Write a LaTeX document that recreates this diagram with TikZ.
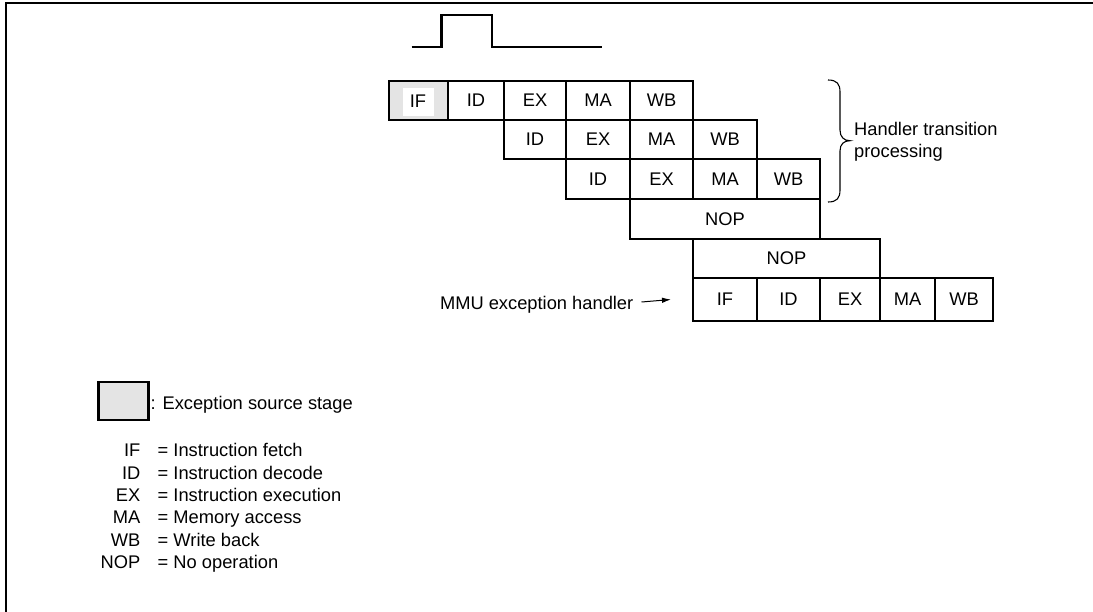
\documentclass[tikz,border=0pt]{standalone}
\usepackage{fontspec}
\setmainfont{Liberation Sans}
\usetikzlibrary{arrows.meta}
\definecolor{srcgray}{HTML}{E4E4E4}
\tikzset{
  cell/.style={draw=black, line width=2.4pt, inner sep=0pt, font=\fontsize{18.3}{20}\selectfont},
  srccell/.style={cell, fill=srcgray},
  lbl/.style={inner sep=0pt, font=\fontsize{18.3}{22}\selectfont},
  lbl1/.style={lbl, text height=13.1pt, text depth=0pt},
  frameline/.style={line width=2.2pt, line cap=rect},
  wave/.style={line width=2.2pt},
  bracestyle/.style={line width=1.1pt},
  arr/.style={line width=1pt, -{Latex[length=9pt,width=5.5pt]}}
}
\newcommand\cellbox[7][cell]{%
  \node[#1, minimum width={(#5)-(#3)}, minimum height={(#6)-(#4)}] (#2) at ({((#3)+(#5))/2},{((#4)+(#6))/2}) {#7};}
\begin{document}
\begin{tikzpicture}[x=1pt,y=-1pt]
\useasboundingbox (0,0) rectangle (1093,611);
% frame
\draw[frameline] (6,611) -- (6,3) -- (1093,3);
% pulse
\draw[wave] (411.5,46.7) -- (441.5,46.7) -- (441.5,15) -- (492.3,15) -- (492.3,46.7) -- (601.7,46.7);
% columns and rows
\def\ca{389}\def\cb{448}\def\cc{504}\def\cd{566}\def\ce{630}\def\cf{693}
\def\cg{757}\def\ch{820}\def\ci{880}\def\cj{935}\def\ck{993}
\def\ra{81}\def\rb{120}\def\rc{159}\def\rd{199}\def\re{239}\def\rf{278}\def\rg{321}
% row 1
\cellbox[srccell]{aIF}{\ca}{\ra}{\cb}{\rb}{}
\node[fill=white, minimum width=31pt, minimum height=28pt, inner sep=0pt, font=\fontsize{18.3}{20}\selectfont] (aIFt) at (418,101.5) {\raisebox{-2.5pt}{IF}};
\cellbox{aID}{\cb}{\ra}{\cc}{\rb}{ID}
\cellbox{aEX}{\cc}{\ra}{\cd}{\rb}{EX}
\cellbox{aMA}{\cd}{\ra}{\ce}{\rb}{MA}
\cellbox{aWB}{\ce}{\ra}{\cf}{\rb}{WB}
% row 2
\cellbox{bID}{\cc}{\rb}{\cd}{\rc}{ID}
\cellbox{bEX}{\cd}{\rb}{\ce}{\rc}{EX}
\cellbox{bMA}{\ce}{\rb}{\cf}{\rc}{MA}
\cellbox{bWB}{\cf}{\rb}{\cg}{\rc}{WB}
% row 3
\cellbox{cID}{\cd}{\rc}{\ce}{\rd}{ID}
\cellbox{cEX}{\ce}{\rc}{\cf}{\rd}{EX}
\cellbox{cMA}{\cf}{\rc}{\cg}{\rd}{MA}
\cellbox{cWB}{\cg}{\rc}{\ch}{\rd}{WB}
% NOPs
\cellbox{dNOP}{\ce}{\rd}{\ch}{\re}{NOP}
\cellbox{eNOP}{\cf}{\re}{\ci}{\rf}{NOP}
% handler row
\cellbox{fIF}{\cf}{\rf}{\cg}{\rg}{IF}
\cellbox{fID}{\cg}{\rf}{\ch}{\rg}{ID}
\cellbox{fEX}{\ch}{\rf}{\ci}{\rg}{EX}
\cellbox{fMA}{\ci}{\rf}{\cj}{\rg}{MA}
\cellbox{fWB}{\cj}{\rf}{\ck}{\rg}{WB}
% brace
\draw[bracestyle] (828,80) .. controls (837,80) and (840,84) .. (840,92) -- (840,130)
  .. controls (840,137) and (844,140.7) .. (850,140.7)
  .. controls (844,140.7) and (840,144) .. (840,151) -- (840,190)
  .. controls (840,198) and (837,202) .. (828,202);
\node[lbl, anchor=west, align=left] (handler) at (854,142) {Handler transition\\processing};
% MMU label and arrow
\node[lbl1, anchor=east] (mmu) at (633.5,302.5) {MMU exception handler};
\coordinate (arrS) at (641.5,302);
\draw[arr] (arrS) -- (fIF.west -| 671,302);
% legend
\node[draw=black, fill=srcgray, line width=2.4pt, minimum width=50pt, minimum height=38pt, inner sep=0pt] (lgbox) at (123.3,401) {};
\node[lbl1, anchor=west] (lgtext) at (150.5,403) {: Exception source stage};
\foreach \ab/\txt/\yy [count=\i] in {IF/Instruction fetch/450, ID/Instruction decode/472.5, EX/Instruction execution/495, MA/Memory access/517.3, WB/Write back/539.6, NOP/No operation/561.8}{
  \node[lbl1, anchor=east] (ab\i) at (140.5,\yy) {\ab};
  \node[lbl1, anchor=west] (df\i) at (157.5,\yy) {= \txt};
}
\end{tikzpicture}
\end{document}
